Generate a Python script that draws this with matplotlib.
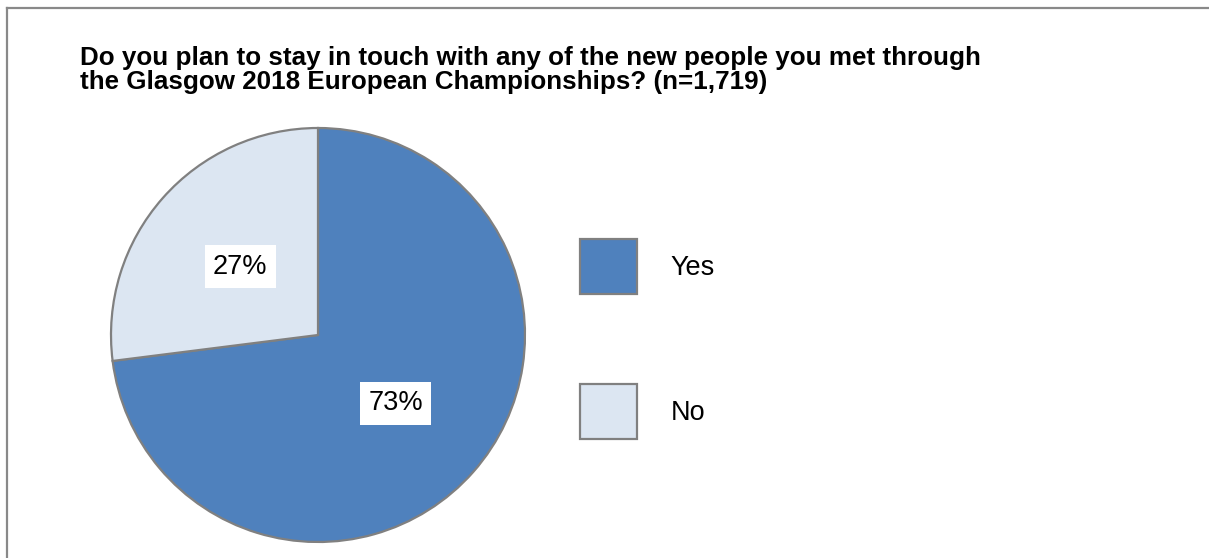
import matplotlib
matplotlib.use("Agg")
import matplotlib.pyplot as plt
from matplotlib.lines import Line2D

# Survey answers
labels = ["Yes", "No"]
shares = [73, 27]
colors = ["#4F81BD", "#DCE6F2"]
title = ("Do you plan to stay in touch with any of the new people you met through\n"
         "the Glasgow 2018 European Championships? (n=1,719)")

plt.rcParams["font.family"] = ["Liberation Sans", "DejaVu Sans"]

W, H = 1209, 558
fig = plt.figure(figsize=(W / 100, H / 100), dpi=100)

# Pie axes placed in pixel terms: centre (318, 335), radius 207
cx, cy, r = 318, 335, 207
ax = fig.add_axes([(cx - r) / W, (H - cy - r) / H, 2 * r / W, 2 * r / H])
wedges, texts, autotexts = ax.pie(
    shares, labels=None, colors=colors, startangle=90, counterclock=False,
    autopct=lambda p: f"{p:.0f}%", pctdistance=0.5,
    wedgeprops={"edgecolor": "#808080", "linewidth": 1.6, "clip_on": False},
    textprops={"fontsize": 19.5, "color": "black"},
)
for t in autotexts:
    t.set_bbox({"facecolor": "white", "edgecolor": "none", "boxstyle": "square,pad=0.3"})
ax.set_xlim(-1, 1)
ax.set_ylim(-1, 1)
ax.set_aspect("equal")

# Legend with large square keys
fig.legend(wedges, labels, loc="upper left",
           bbox_to_anchor=(580 / W, 1 - 239 / H), frameon=False,
           fontsize=19.5, handlelength=2.1, handleheight=2.75,
           handletextpad=1.25, labelspacing=3.32, borderpad=0, borderaxespad=0)

fig.text(80 / W, 1 - 46 / H, title, fontsize=18.7, fontweight="bold",
         ha="left", va="top", linespacing=1.0)

# Chart area outline (top and left edges)
border = "#898989"
fig.add_artist(Line2D([7 / W, 1], [1 - 8 / H, 1 - 8 / H], color=border, lw=1.6))
fig.add_artist(Line2D([7 / W, 7 / W], [0, 1 - 8 / H], color=border, lw=1.6))

fig.savefig("out.png", dpi=100)
